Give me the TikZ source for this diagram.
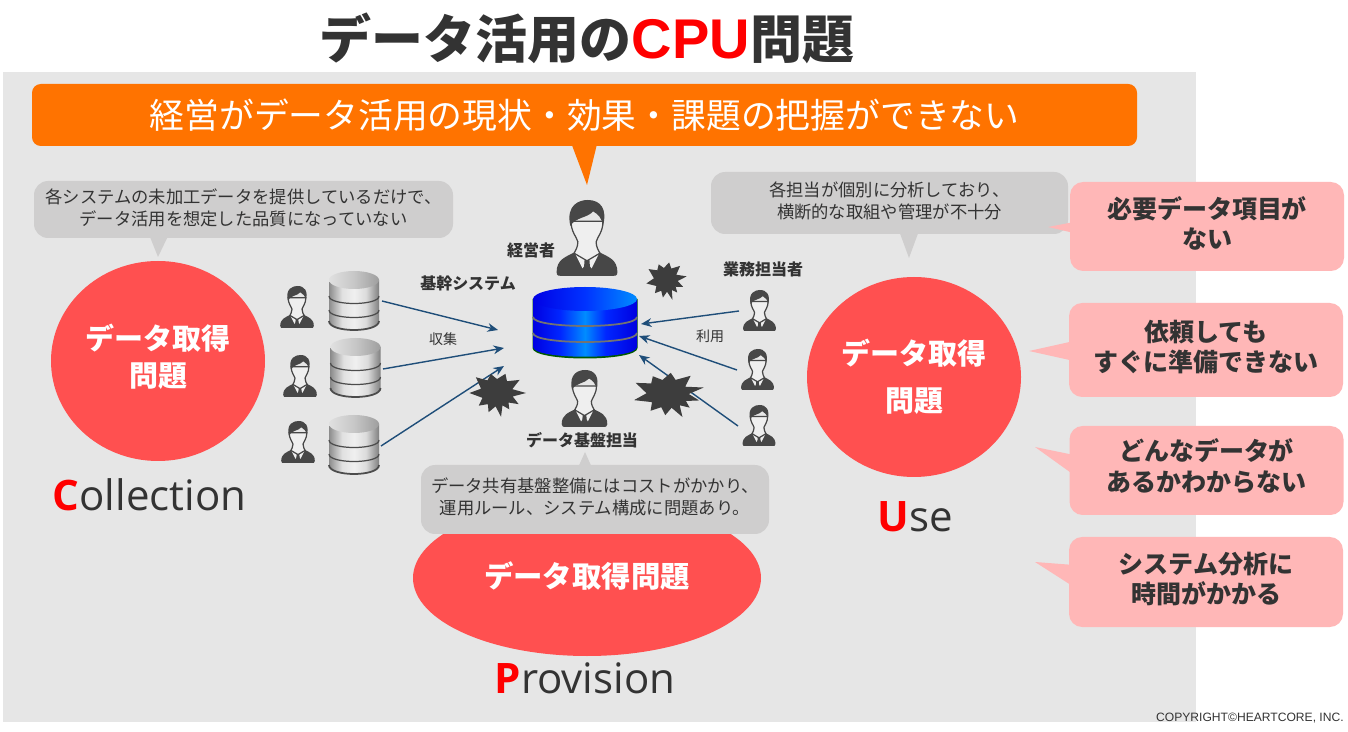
\documentclass[tikz,border=0pt]{standalone}
\usepackage{fontspec}
\usepackage{xcolor}
\usetikzlibrary{shapes,arrows.meta,positioning,calc}
\setmainfont{Noto Sans CJK JP}
\newfontfamily\latinfont{Liberation Sans}
\newfontfamily\captionfont{Open Sans}
\definecolor{bgpanel}{HTML}{E6E6E6}
\definecolor{orangebar}{HTML}{FF7300}
\definecolor{redcircle}{HTML}{FF5050}
\definecolor{pinkbox}{HTML}{FFB7B7}
\definecolor{graybox}{HTML}{CFCECE}
\definecolor{inkdark}{HTML}{333333}
\definecolor{arrowblue}{HTML}{1F4E79}
\definecolor{faceskin}{HTML}{EFEFEF}
\newcommand{\px}[2]{\pgfmathsetmacro\fsa{#1*0.569}\pgfmathsetmacro\fsb{#2*0.569}\fontsize{\fsa}{\fsb}\selectfont}
\newcommand{\lift}[1]{\rule[-#1pt]{0pt}{0pt}}
\pgfdeclarehorizontalshading{silverbody}{100bp}{color(0bp)=(black!45); color(25bp)=(black!45); color(38bp)=(black!12); color(50bp)=(black!6); color(62bp)=(black!14); color(75bp)=(black!50); color(100bp)=(black!50)}
\pgfdeclarehorizontalshading{silvertop}{100bp}{color(0bp)=(black!12); color(25bp)=(black!12); color(50bp)=(black!22); color(75bp)=(black!38); color(100bp)=(black!38)}
\pgfdeclarehorizontalshading{bluebody}{100bp}{color(0bp)=(blue!88!black); color(25bp)=(blue!88!black); color(38bp)=(blue!85!cyan); color(50bp)=(blue!45!cyan); color(60bp)=(blue!85!cyan); color(75bp)=(blue!88!black); color(100bp)=(blue!88!black)}
\pgfdeclarehorizontalshading{bluetop}{100bp}{color(0bp)=(blue!90!black); color(25bp)=(blue!90!black); color(50bp)=(blue!80!cyan); color(75bp)=(blue!45!cyan); color(100bp)=(blue!45!cyan)}
\tikzset{
  person/.pic={
    \fill[inkdark!90] (-40,95) .. controls (-40,78) and (-28,75) .. (-15,68) -- (0,84) -- (15,68) .. controls (28,75) and (40,78) .. (40,95) .. controls (40,100) and (37,100) .. (33,100) -- (-33,100) .. controls (-37,100) and (-40,100) .. (-40,95) -- cycle;
    \fill[faceskin] (-12,66) -- (0,76) -- (12,66) -- (15,72) -- (6,90) -- (0,82) -- (-6,90) -- (-15,72) -- cycle;
    \fill[inkdark!90] (-3,76) -- (3,76) -- (4,90) -- (0,96) -- (-4,90) -- cycle;
    \draw[inkdark!90, line width=0.7pt, fill=faceskin] (-21,28) .. controls (-21,42) and (-14,48) .. (-12,55) .. controls (-12,62) and (-15,66) .. (-17,70) -- (0,80) -- (17,70) .. controls (15,66) and (12,62) .. (12,55) .. controls (14,48) and (21,42) .. (21,28) -- cycle;
    \fill[inkdark!90] (-22,34) .. controls (-28,6) and (-10,0) .. (1,0) .. controls (18,0) and (27,12) .. (21,34) .. controls (20,24) and (14,18) .. (8,15) .. controls (0,24) and (-14,22) .. (-22,34) -- cycle;
  },
  silverdb/.pic={
    \shade[shading=silverbody] (-25,9) -- (-25,50) .. controls (-25,62) and (25,62) .. (25,50) -- (25,9) -- cycle;
    \shade[shading=silvertop] (0,9) ellipse (25 and 9);
    \draw[black!70, line width=0.7pt] (-25,25) .. controls (-25,35) and (25,35) .. (25,25);
    \draw[black!70, line width=0.7pt] (-25,39) .. controls (-25,49) and (25,49) .. (25,39);
    \draw[black!70, line width=1pt] (-25,50) .. controls (-25,62) and (25,62) .. (25,50);
  },
  bluedb/.pic={
    \fill[green!35!black] (-52.5,12) -- (-52.5,61) .. controls (-52.5,75) and (52.5,75) .. (52.5,61) -- (52.5,12) -- cycle;
    \shade[shading=bluebody] (-52,13) -- (-52,60) .. controls (-52,73) and (52,73) .. (52,60) -- (52,13) -- cycle;
    \shade[shading=bluetop] (0,12) ellipse (52 and 12);
    \draw[black!55, line width=1pt] (-52,30) .. controls (-52,42) and (52,42) .. (52,30);
    \draw[black!55, line width=1pt] (-52,46) .. controls (-52,58) and (52,58) .. (52,46);
  },
  burst/.pic={
    \fill[inkdark!95] (0:1) -- (15:.56) -- (32:.88) -- (45:.56) -- (58:.8) -- (70:.55) -- (82:1) -- (95:.56) -- (110:.85) -- (124:.56) -- (140:.82) -- (158:.54) -- (180:.95) -- (198:.58) -- (222:.98) -- (238:.62) -- (255:.82) -- (270:.58) -- (290:.85) -- (305:.6) -- (325:.95) -- (343:.55) -- cycle;
  }
}
\begin{document}
\begin{tikzpicture}[x=0.02cm,y=-0.02cm]
  \tikzstyle{callout}=[rectangle, rounded corners=8pt, inner sep=0pt, align=center, text=inkdark]
  \tikzstyle{grayc}=[callout, fill=graybox, font=\px{17.3}{22}]
  \tikzstyle{pinkc}=[callout, fill=pinkbox, rounded corners=7.5pt, font=\bfseries\px{25}{30}, minimum width=274*0.02cm, minimum height=90*0.02cm]
  \tikzstyle{problem}=[ellipse, fill=redcircle, inner sep=0pt, text=white, align=center, font=\bfseries\px{29}{37}]
  \tikzstyle{rolelabel}=[font=\bfseries\px{16}{18}, text=inkdark, inner sep=0pt]
  \tikzstyle{flowlabel}=[font=\px{14}{16}, text=inkdark, inner sep=0pt]
  \tikzstyle{initial}=[font=\captionfont\px{42}{50}, text=inkdark, inner sep=0pt]
  \tikzstyle{flow}=[-{Stealth[length=6pt,width=5pt]}, arrowblue, line width=0.8pt]
  \useasboundingbox (0,0) rectangle (1348,732);
  \fill[white] (0,0) rectangle (1348,732);
  \fill[bgpanel] (3,72) rectangle (1196,722);

  \node[inner sep=0pt, text=inkdark, font=\bfseries\px{52}{56}] (title) at (587,38) {データ活用の{\latinfont\px{56}{56}\color{red}CPU}問題};

  % banner
  \fill[orangebar] (570,140) -- (587,185) -- (598,140) -- cycle;
  \node[callout, fill=orangebar, rounded corners=5pt, text=white, minimum width=1105*0.02cm, minimum height=62*0.02cm, font=\px{34.8}{40}] (banner) at (584.5,115) {経営がデータ活用の現状・効果・課題の把握ができない};

  % left side
  \node[problem, minimum width=214*0.02cm, minimum height=200*0.02cm] (cproblem) at (158,361) {データ取得\\問題\lift{7}};
  \fill[graybox] (148,232) -- (158,257) -- (170,232) -- cycle;
  \node[grayc, minimum width=419*0.02cm, minimum height=57*0.02cm] (cnote) at (243.5,209.5) {各システムの未加工データを提供しているだけで、\\データ活用を想定した品質になっていない\lift{2.5}};
  \node[initial] (clabel) at (149.5,495) {{\bfseries\color{red}C}ollection};

  % middle bottom
  \node[problem, minimum width=348*0.02cm, minimum height=156*0.02cm] (pproblem) at (587,578) {};
  \node[inner sep=0pt, text=white, font=\bfseries\px{29.4}{34}] (ptext) at (587,576) {データ取得問題};
  \fill[graybox] (577,470) -- (585,452) -- (593,470) -- cycle;
  \node[grayc, minimum width=348*0.02cm, minimum height=69*0.02cm] (pnote) at (595,499.5) {データ共有基盤整備にはコストがかかり、\\運用ルール、システム構成に問題あり。\lift{3.5}};
  \node[initial] (plabel) at (585,678) {{\bfseries\color{red}P}rovision};

  % right side
  \node[problem, minimum width=214*0.02cm, minimum height=200*0.02cm, font=\bfseries\px{29}{47}] (uproblem) at (914,377) {データ取得\\問題};
  \fill[graybox] (898,228) -- (909,258) -- (920,228) -- cycle;
  \node[grayc, minimum width=357*0.02cm, minimum height=62*0.02cm] (unote) at (889.5,203) {各担当が個別に分析しており、\\横断的な取組や管理が不十分\lift{3.5}};
  \node[initial] (ulabel) at (915,517) {{\bfseries\color{red}U}se};

  % pink notes
  \node[pinkc, minimum height=89*0.02cm] (pink1) at (1207,226.5) {必要データ項目が\\ない\lift{5}};
  \node[pinkc, minimum height=94*0.02cm] (pink2) at (1206,350) {依頼しても\\すぐに準備できない\lift{5}};
  \node[pinkc, minimum height=89*0.02cm, font=\bfseries\px{25}{31}] (pink3) at (1206.5,470.5) {どんなデータが\\あるかわからない\lift{6}};
  \node[pinkc] (pink4) at (1206,582) {システム分析に\\時間がかかる\lift{5}};
  \coordinate (tip1) at (1048,227);
  \coordinate (tip2) at (1029,351);
  \coordinate (tip3) at (1035,447);
  \coordinate (tip4) at (1035,562);
  \fill[pinkbox] (tip1) -- (1074,222) -- (1074,233) -- cycle;
  \fill[pinkbox] (tip2) -- (1074,341) -- (1074,361) -- cycle;
  \fill[pinkbox] (tip3) -- (1074,455) -- (1074,475) -- cycle;
  \fill[pinkbox] (tip4) -- (1074,565) -- (1074,587) -- cycle;

  % sources
  \pic[scale=0.42] at (297,286) {person};
  \pic[scale=0.42] at (300,355) {person};
  \pic[scale=0.42] at (298,421) {person};
  \pic at (354,271) {silverdb};
  \pic at (355.5,338) {silverdb};
  \pic at (354,415) {silverdb};

  \coordinate (src1) at (382,301);
  \coordinate (src2) at (383,369);
  \coordinate (src3) at (381,446);
  \coordinate (in1) at (498,330);
  \coordinate (in2) at (504,348);
  \coordinate (in3) at (504,366);
  \draw[flow] (src1) -- (in1);
  \draw[flow] (src2) -- (in2);
  \draw[flow] (src3) -- (in3);

  \node[rolelabel] (kikan) at (468,283) {基幹システム};
  \node[flowlabel] (shushu) at (443,339) {収集};

  % center
  \pic at (585,287) {bluedb};
  \pic[scale=0.76] at (587,200) {person};
  \node[rolelabel] (keiei) at (531,250) {経営者};
  \pic[scale=0.57] at (584.5,370) {person};
  \node[rolelabel] (kiban) at (582,440) {データ基盤担当};

  % users
  \pic[scale=0.41] at (759.5,290) {person};
  \pic[scale=0.41] at (757.5,349) {person};
  \pic[scale=0.41] at (759,405) {person};
  \node[rolelabel] (gyomu) at (763,269) {業務担当者};
  \node[flowlabel] (riyo) at (710,336) {利用};

  \coordinate (usr1) at (739,311);
  \coordinate (usr2) at (737,370);
  \coordinate (usr3) at (738,426);
  \coordinate (out1) at (641,324);
  \coordinate (out2) at (639,336);
  \coordinate (out3) at (639,355);
  \draw[flow] (usr1) -- (out1);
  \draw[flow] (usr2) -- (out2);
  \draw[flow] (usr3) -- (out3);

  % bursts
  \pic[xscale=21, yscale=21, rotate=10] at (666,280) {burst};
  \pic[xscale=29, yscale=24] at (497,393) {burst};
  \pic[xscale=37, yscale=25, rotate=15] at (668,394) {burst};

  \node[anchor=east, inner sep=0pt, text=inkdark, font=\latinfont\px{12.1}{13}] (copy) at (1344,718) {COPYRIGHT©HEARTCORE, INC.};
\end{tikzpicture}
\end{document}
